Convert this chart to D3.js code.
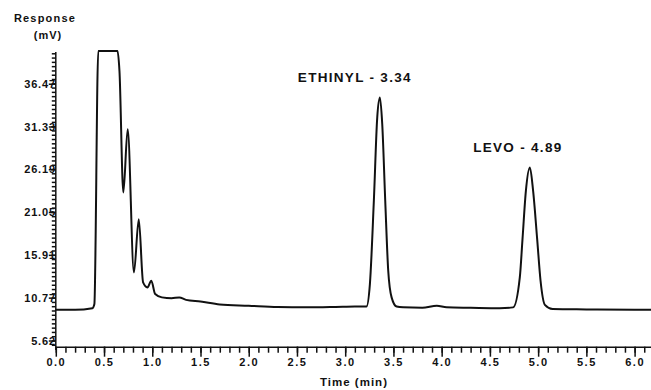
<!DOCTYPE html>
<meta charset="utf-8">
<style>
body { margin: 0; background: #fff; }
text { font-family: "Liberation Sans", Arial, sans-serif; font-weight: bold; fill: #111; }
.axis path, .axis line { stroke: #111; stroke-width: 1.5px; }
</style>
<body>
<script src="https://d3js.org/d3.v7.min.js"></script>
<script>

var width = 651, height = 390;

// retention time (min) and detector response (mV)
var time = [0.0, 0.2, 0.38, 0.40, 0.44, 0.64, 0.66, 0.70, 0.745, 0.81, 0.86, 0.905, 0.95, 0.99, 1.03,
  1.1, 1.2, 1.28, 1.35, 1.5, 1.7, 2.0, 2.3, 2.6, 2.9, 3.1, 3.22,
  3.256, 3.297, 3.332, 3.36, 3.384, 3.415, 3.446, 3.481, 3.533,
  3.6, 3.8, 3.95, 4.05, 4.3, 4.6, 4.741,
  4.81, 4.838, 4.873, 4.914, 4.948, 4.99, 5.025, 5.07, 5.15, 5.5, 6.0, 6.17];
var response = [9.3, 9.3, 9.5, 10.0, 40.4, 40.4, 38.0, 23.4, 31.0, 13.8, 20.2, 12.6, 12.0, 12.8, 11.2,
  10.8, 10.7, 10.8, 10.5, 10.3, 9.95, 9.8, 9.65, 9.6, 9.65, 9.7, 9.7,
  12.4, 22.4, 32.4, 34.8, 31.6, 22.4, 14.0, 10.8, 9.7,
  9.6, 9.55, 9.8, 9.6, 9.55, 9.5, 9.6,
  13.2, 17.8, 23.6, 26.4, 23.6, 17.8, 12.8, 9.9, 9.4, 9.35, 9.3, 9.3];

var yTicks = [5.62, 10.77, 15.91, 21.05, 26.19, 31.33, 36.47];
var xTicks = [0, 0.5, 1, 1.5, 2, 2.5, 3, 3.5, 4, 4.5, 5, 5.5, 6];

// peak names, placed in data units (time, mV)
var peakNames = ["ETHINYL - 3.34", "LEVO - 4.89"];
var peakLabelT = [3.10, 4.79];
var peakLabelV = [36.7, 28.3];

var x = d3.scaleLinear().domain([0, 6.17]).range([55.8, 651]);
var y = d3.scaleLinear().domain([4.875, 40.4]).range([346.7, 51]);

var svg = d3.select("body").append("svg")
    .attr("width", width)
    .attr("height", height);

// x axis: minor ticks every 0.1 min, labelled every 0.5
var xMinor = d3.range(0, 6.17, 0.1);
svg.append("g").attr("class", "axis")
  .attr("transform", "translate(0," + y.range()[0] + ")")
  .call(d3.axisBottom(x).tickValues(xMinor).tickSize(6).tickFormat(""))
  .call(function(g){ g.select(".domain").remove(); });

svg.append("g").attr("class", "axis")
  .attr("transform", "translate(0," + y.range()[0] + ")")
  .call(d3.axisBottom(x).tickValues(xTicks).tickSize(10).tickSizeOuter(0).tickFormat(d3.format(".1f")))
  .call(function(g){
    g.selectAll("text").attr("font-size", 11).attr("letter-spacing", 1.5).attr("y", 12);
  });

// y axis: minor ticks every tenth of a label step
var step = yTicks[1] - yTicks[0];
var yMinor = d3.range(-2, 80).map(function(i){ return yTicks[0] + i * step / 10; })
  .filter(function(v){ return v >= y.domain()[0] && v <= y.domain()[1] - 0.2; });
svg.append("g").attr("class", "axis")
  .attr("transform", "translate(" + x.range()[0] + ",0)")
  .call(d3.axisLeft(y).tickValues(yMinor).tickSize(4).tickFormat(""))
  .call(function(g){ g.select(".domain").remove(); });

svg.append("g").attr("class", "axis")
  .attr("transform", "translate(" + x.range()[0] + ",0)")
  .call(d3.axisLeft(y).tickValues(yTicks).tickSize(7).tickSizeOuter(0).tickFormat(d3.format(".2f")))
  .call(function(g){
    g.select(".domain").attr("d", "M0,350V52");
    g.selectAll("text").attr("font-size", 11).attr("letter-spacing", 0.8).attr("x", 0);
  });

// trace
var line = d3.line()
  .x(function(d, i){ return x(time[i]); })
  .y(function(d){ return y(d); })
  .curve(d3.curveMonotoneX);

svg.append("path")
  .attr("d", line(response))
  .attr("fill", "none")
  .attr("stroke", "#111")
  .attr("stroke-width", 2);

// peak labels
svg.selectAll(".peak")
  .data(peakNames)
  .enter().append("text")
  .attr("x", function(d, i){ return x(peakLabelT[i]); })
  .attr("y", function(d, i){ return y(peakLabelV[i]); })
  .attr("text-anchor", "middle")
  .attr("font-size", 13.5)
  .attr("letter-spacing", 1.3)
  .text(function(d){ return d; });

// axis titles
svg.append("text").attr("x", 45).attr("y", 22).attr("text-anchor", "middle")
  .attr("font-size", 11).attr("letter-spacing", 1.2).text("Response");
svg.append("text").attr("x", 48).attr("y", 39).attr("text-anchor", "middle")
  .attr("font-size", 11).attr("letter-spacing", 1).text("(mV)");
svg.append("text").attr("x", 354).attr("y", 386).attr("text-anchor", "middle")
  .attr("font-size", 11.5).attr("letter-spacing", 1).text("Time (min)");

</script>
